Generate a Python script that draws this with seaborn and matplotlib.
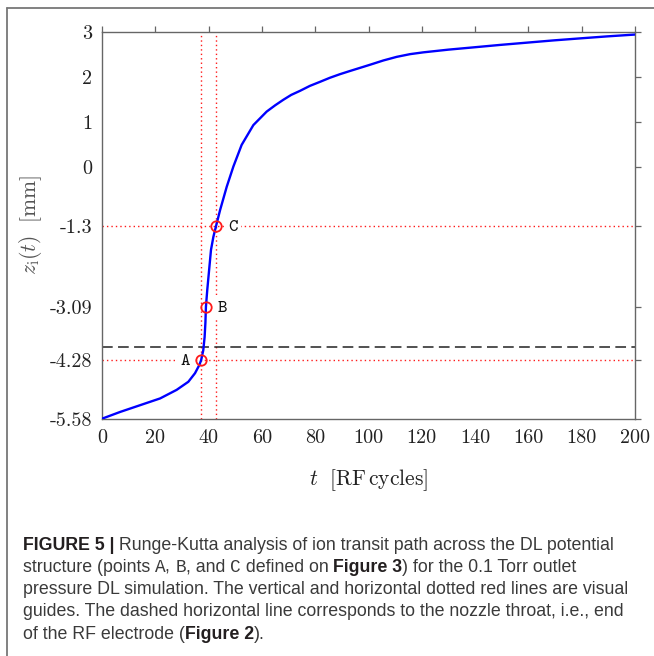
import numpy as np
import pandas as pd
import matplotlib
matplotlib.use("Agg")
import matplotlib.pyplot as plt
import seaborn as sns
from matplotlib.lines import Line2D

# ---------------- data ----------------
t_vals = [0, 6.8, 14.3, 21.8, 28.0, 32.4, 34.9, 36.5, 37.2, 38.0, 38.5, 38.8,
          39.0, 39.5, 40.3, 40.9, 41.8, 42.8, 44.3, 46.8, 49.3, 52.4, 56.8,
          61.8, 65.0, 68.0, 71.0, 74.3, 78.0, 81.8, 85.5, 89.3, 93.0, 96.8,
          100.6, 105.6, 110.6, 115.6, 120.6, 130.0, 139.3, 149.4, 159.4,
          169.4, 179.4, 189.7, 200]
z_vals = [-5.58, -5.43, -5.28, -5.13, -4.94, -4.76, -4.57, -4.39, -4.28, -4.06,
          -3.77, -3.45, -3.09, -2.72, -2.21, -1.83, -1.54, -1.30, -0.95, -0.43,
          0.02, 0.50, 0.94, 1.24, 1.38, 1.50, 1.61, 1.70, 1.81, 1.90, 1.99,
          2.07, 2.14, 2.21, 2.28, 2.375, 2.455, 2.515, 2.555, 2.615, 2.665, 2.72,
          2.77, 2.82, 2.865, 2.91, 2.95]

point_names = ["A", "B", "C"]
point_t = [37.2, 39.0, 42.9]
point_z = [-4.28, -3.09, -1.30]
label_dx_pt = [-11.5, 12.0, 12.5]

guide_t = [37.3, 42.9]
guide_z = [-4.28, -1.30]
throat_z = -3.98

x_ticks = [0, 20, 40, 60, 80, 100, 120, 140, 160, 180, 200]
y_ticks = [3, 2, 1, 0, -1.3, -3.09, -4.28, -5.58]
y_tick_labels = ["3", "2", "1", "0", "-1.3", "-3.09", "-4.28", "-5.58"]

caption_lines = [
    [("FIGURE 5 |", "bold"), (" Runge-Kutta analysis of ion transit path across the DL potential", "normal")],
    [("structure (points ", "normal"), ("A", "mono"), (", ", "normal"), ("B", "mono"),
     (", and ", "normal"), ("C", "mono"), (" defined on ", "normal"), ("Figure 3", "bold"),
     (") for the 0.1 Torr outlet", "normal")],
    [("pressure DL simulation. The vertical and horizontal dotted red lines are visual", "normal")],
    [("guides. The dashed horizontal line corresponds to the nozzle throat, i.e., end", "normal")],
    [("of the RF electrode (", "normal"), ("Figure 2", "bold"), (").", "normal")],
]

# ---------------- figure ----------------
sns.set_theme(style="white")
plt.rcParams["font.family"] = ["DejaVu Sans"]
plt.rcParams["mathtext.fontset"] = "cm"

W, H = 654, 656
fig = plt.figure(figsize=(W / 100, H / 100), dpi=100)
fig.patch.set_facecolor("white")

def fx(px):
    return px / W

def fy(py):
    return 1 - py / H

ax_l, ax_r, ax_t, ax_b = 102, 635, 32.3, 418.7
ax = fig.add_axes([fx(ax_l), fy(ax_b), fx(ax_r) - fx(ax_l), (ax_b - ax_t) / H])
ax.set_facecolor("white")

df = pd.DataFrame({"t": t_vals, "z": z_vals})

red = "#ff1a1a"
for gt in guide_t:
    ax.axvline(gt, color=red, lw=1.0, ls=(0, (1, 2.2)), zorder=1)
for gz in guide_z:
    ax.axhline(gz, color=red, lw=1.0, ls=(0, (1, 2.2)), zorder=1)
ax.axhline(throat_z, color="#222222", lw=1.1, ls=(0, (7, 3.5)), zorder=1)

sns.lineplot(data=df, x="t", y="z", sort=False, color="#0000ff", lw=1.7,
             ax=ax, zorder=3, legend=False)

ax.plot(point_t, point_z, "o", ms=7.5, mfc="none", mec=red, mew=1.3, zorder=5)
for name, pt, pz, dx in zip(point_names, point_t, point_z, label_dx_pt):
    ax.annotate(r"$\mathtt{" + name + "}$", (pt, pz), xytext=(dx, 0), textcoords="offset points",
                ha="center", va="center", fontsize=13, color="#111111",
                bbox=dict(boxstyle="square,pad=0.12", fc="white", ec="none"),
                zorder=4)

ax.set_xlim(0, 200)
ax.set_ylim(-5.58, 3)
ax.set_xticks(x_ticks)
ax.set_xticklabels([str(v) for v in x_ticks], family="cmr10", fontsize=14.5, color="#222222")
ax.set_yticks(y_ticks)
ax.set_yticklabels(y_tick_labels, family="cmr10", fontsize=14.5, color="#222222")
ax.tick_params(axis="both", which="both", direction="out", length=4.2, width=0.9,
               color="#666666", top=True, right=True, labeltop=False, labelright=False,
               pad=3)
for s in ax.spines.values():
    s.set_visible(True)
    s.set_color("#666666")
    s.set_linewidth(1.0)

ax.set_xlabel(r"$t\ \ [\mathrm{RF\,cycles}]$", fontsize=15.5, color="#222222", labelpad=15)
ax.set_ylabel(r"$z_{\mathrm{i}}(t)\ \ [\mathrm{mm}]$", fontsize=15.5, color="#555555", labelpad=4)
ax.grid(False)

# frame lines (top and left visible)
fig.add_artist(Line2D([fx(7), 1.0], [fy(8), fy(8)], transform=fig.transFigure,
                      color="#777777", lw=1.3))
fig.add_artist(Line2D([fx(7), fx(7)], [fy(8), 0.0], transform=fig.transFigure,
                      color="#777777", lw=1.3))

# ---------------- caption ----------------
renderer = fig.canvas.get_renderer()
styles = {
    "normal": dict(family=["Liberation Sans", "DejaVu Sans"], fontweight="normal", color="#3a3a3a"),
    "bold": dict(family=["Liberation Sans", "DejaVu Sans"], fontweight="bold", color="#231f20"),
    "mono": dict(family=["Liberation Mono", "DejaVu Sans Mono"], fontweight="normal", color="#3a3a3a"),
}

def text_width(s, style, size):
    a = fig.text(0, 0, "x" + s + "x", fontsize=size, **styles[style])
    b = fig.text(0, 0, "xx", fontsize=size, **styles[style])
    w = a.get_window_extent(renderer).width - b.get_window_extent(renderer).width
    a.remove()
    b.remove()
    return w

ref_w = text_width(caption_lines[2][0][0], "normal", 10)
cap_size = 10 * 607 / ref_w

x0 = 22.7
baselines = [549.5, 571.8, 594.1, 616.4, 638.7]
for runs, yb in zip(caption_lines, baselines):
    x = x0
    for s, st in runs:
        fig.text(fx(x), fy(yb), s, fontsize=cap_size, ha="left", va="baseline", **styles[st])
        x += text_width(s, st, cap_size)

fig.savefig("out.png", dpi=100, facecolor="white")
